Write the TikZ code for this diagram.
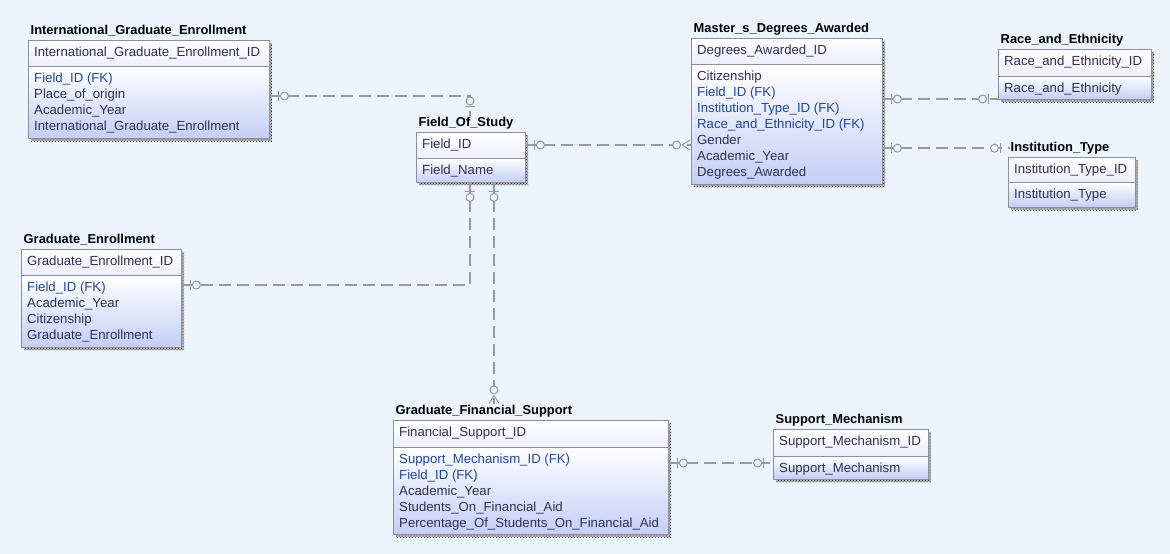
\documentclass[tikz,border=0pt]{standalone}
\usepackage{fontspec}
\setmainfont{Liberation Sans}
\usetikzlibrary{fit,decorations.markings,patterns}

\definecolor{bgblue}{RGB}{236,243,251}
\definecolor{boxgray}{RGB}{140,142,155}
\definecolor{keytop}{RGB}{236,238,250}
\definecolor{attrbot}{RGB}{196,206,245}
\definecolor{txtdark}{RGB}{48,48,82}
\definecolor{fkblue}{RGB}{32,72,155}
\definecolor{relgray}{RGB}{152,152,158}

\newcommand{\fk}[1]{\textcolor{fkblue}{#1}}

% one entity: name, left, top, right, bottom, divider, title, key, attributes
\newcommand{\entity}[9]{%
  \fill[black!30] (#2+3,#3+3) rectangle (#4+3,#5+3);
  \fill[pattern=crosshatch dots,pattern color=black!85] (#2+3,#3+3) rectangle (#4+3,#5+3);
  \shade[top color=white,bottom color=keytop] (#2,#3) rectangle (#4,#6);
  \shade[top color=white,bottom color=attrbot] (#2,#6) rectangle (#4,#5);
  \draw[boxgray,line width=.8pt] (#2,#6) -- (#4,#6);
  \node[draw=boxgray,line width=.8pt,inner sep=0,fit={(#2,#3) (#4,#5)}] (#1) {};
  \node[entitle,anchor=base west] (#1T) at (#2+1.5,#3-5.5) {#7};
  \node[attr,anchor=base west] at (#2+6,#3+16) {#8};
  \foreach \attrib [count=\idx from 0] in {#9}
    \node[attr,anchor=base west] at (#2+6,#6+16+16*\idx) {\attrib};
}

\tikzset{
  entitle/.style={inner sep=1pt,font=\fontsize{12.9}{14}\selectfont\bfseries},
  attr/.style={inner sep=0,text=txtdark,font=\fontsize{13.2}{15}\selectfont},
  rel/.style={draw=relgray,line width=2pt,dash pattern=on 12pt off 6pt},
  zoStart/.style={postaction={decorate,decoration={markings,
    mark=at position 9pt with {\draw[relgray,solid,line width=1pt] (0,-5pt) -- (0,5pt);},
    mark=at position 15pt with {\draw[relgray,solid,line width=1pt,fill=bgblue] (0,0) circle (4pt);}}}},
  zoEnd/.style={postaction={decorate,decoration={markings,
    mark=at position -9pt with {\draw[relgray,solid,line width=1pt] (0,-5pt) -- (0,5pt);},
    mark=at position -15pt with {\draw[relgray,solid,line width=1pt,fill=bgblue] (0,0) circle (4pt);}}}},
  zmEnd/.style={postaction={decorate,decoration={markings,
    mark=at position -0.5pt with {\draw[relgray,solid,line width=1pt] (-8pt,0) -- (0,5pt) (-8pt,0) -- (0,-5pt);},
    mark=at position -14pt with {\draw[relgray,solid,line width=1pt,fill=bgblue] (0,0) circle (4pt);}}}}
}

\begin{document}
\begin{tikzpicture}[x=1pt,y=-1pt]
\fill[bgblue] (0,0) rectangle (1170,554);
\useasboundingbox (0,0) rectangle (1170,554);

\entity{ige}{28}{40}{269}{138}{66}{International\_Graduate\_Enrollment}
  {International\_Graduate\_Enrollment\_ID}
  {\fk{Field\_ID (FK)},Place\_of\_origin,Academic\_Year,International\_Graduate\_Enrollment}
\entity{fos}{416}{132}{525}{182}{158}{Field\_Of\_Study}{Field\_ID}{Field\_Name}
\entity{mda}{691}{38}{882}{184}{64}{Master\_s\_Degrees\_Awarded}{Degrees\_Awarded\_ID}
  {Citizenship,\fk{Field\_ID (FK)},\fk{Institution\_Type\_ID (FK)},\fk{Race\_and\_Ethnicity\_ID (FK)},Gender,Academic\_Year,Degrees\_Awarded}
\entity{race}{998}{49}{1151}{99}{76}{Race\_and\_Ethnicity}{Race\_and\_Ethnicity\_ID}{Race\_and\_Ethnicity}
\entity{inst}{1008}{157}{1135}{207}{182}{Institution\_Type}{Institution\_Type\_ID}{Institution\_Type}
\entity{ge}{21}{249}{181}{347}{275}{Graduate\_Enrollment}{Graduate\_Enrollment\_ID}
  {\fk{Field\_ID (FK)},Academic\_Year,Citizenship,Graduate\_Enrollment}
\entity{gfs}{393}{420}{668}{534}{447}{Graduate\_Financial\_Support}{Financial\_Support\_ID}
  {\fk{Support\_Mechanism\_ID (FK)},\fk{Field\_ID (FK)},Academic\_Year,Students\_On\_Financial\_Aid,Percentage\_Of\_Students\_On\_Financial\_Aid}
\entity{supp}{773}{429}{928}{479}{456}{Support\_Mechanism}{Support\_Mechanism\_ID}{Support\_Mechanism}

% relationships
\draw[rel,zoStart,zoEnd] (ige.east |- 0,96) -| (fosT.north -| 470,0);
\draw[rel,zoStart,zmEnd] (fos.east |- 0,145) -- (mda.west |- 0,145);
\draw[rel,zoStart,zoEnd] (mda.east |- 0,99) -- (race.west |- 0,99);
\draw[rel,zoStart,zoEnd] (mda.east |- instT.west) -- (instT.west);
\draw[rel,zoStart,zoEnd] (fos.south -| 470,0) |- (ge.east |- 0,285);
\draw[rel,zoStart,zmEnd] (fos.south -| 494,0) -- (gfsT.north -| 494,0);
\draw[rel,zoStart,zoEnd] (gfs.east |- 0,463) -- (supp.west |- 0,463);
\end{tikzpicture}
\end{document}
